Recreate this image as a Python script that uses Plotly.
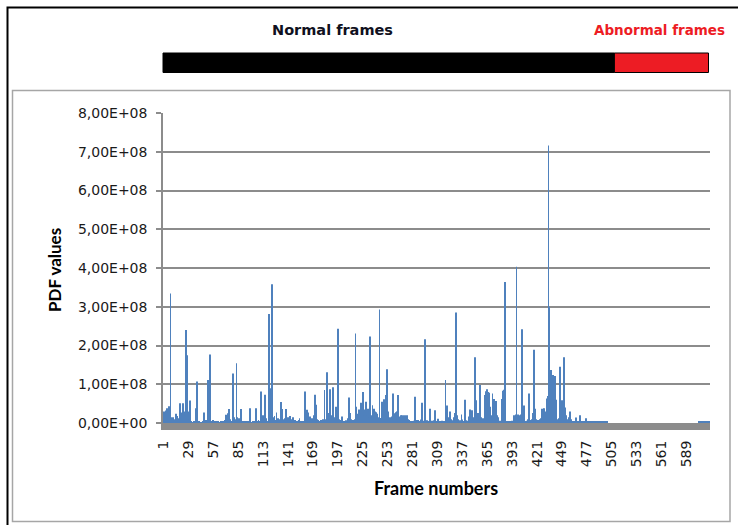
import plotly.graph_objects as go

# ---------------- data (PDF values, in units of 1E+08) ----------------
pdf_e8 = [
    # 1-10
    0.08, 0.30, 0.25, 0.32, 0.38, 0.28, 0.43, 0.40, 3.34, 0.15,
    0.12, 0.15, 0.10, 0.03, 0.24, 0.18, 0.12, 0.10, 0.05, 0.51,
    0.27, 0.20, 0.51, 0.30, 0.27, 2.40, 1.77, 1.75, 0.30, 0.10,
    0.58, 0.05, 0.02, 0.02, 0.03, 0.02, 0.38, 0.10, 1.07, 0.05,
    0.03, 0.02, 0.02, 0.02, 0.03, 0.05, 0.27, 0.08, 0.05, 0.08,
    # 51-100
    1.11, 0.30, 1.77, 0.05, 0.03, 0.02, 0.08, 0.02, 0.03, 0.02,
    0.04, 0.02, 0.03, 0.02, 0.02, 0.03, 0.02, 0.04, 0.05, 0.08,
    0.21, 0.15, 0.25, 0.12, 0.36, 0.10, 0.05, 0.03, 1.28, 0.15,
    0.05, 0.10, 1.54, 0.15, 0.05, 0.12, 0.05, 0.36, 0.03, 0.02,
    0.03, 0.02, 0.04, 0.02, 0.03, 0.02, 0.04, 0.38, 0.03, 0.02,
    # 101-150
    0.03, 0.02, 0.04, 0.03, 0.38, 0.05, 0.03, 0.08, 0.04, 0.06,
    0.81, 0.15, 0.20, 0.05, 0.73, 0.08, 0.12, 0.05, 0.10, 2.81,
    0.87, 0.90, 3.58, 0.15, 0.05, 0.18, 0.08, 0.27, 0.10, 0.12,
    0.05, 0.10, 0.54, 0.36, 0.10, 0.05, 0.12, 0.05, 0.36, 0.08,
    0.15, 0.12, 0.18, 0.05, 0.10, 0.05, 0.15, 0.05, 0.08, 0.03,
    # 151-200
    0.05, 0.02, 0.08, 0.12, 0.05, 0.02, 0.03, 0.04, 0.05, 0.81,
    0.20, 0.34, 0.10, 0.27, 0.08, 0.17, 0.05, 0.12, 0.05, 0.20,
    0.73, 0.25, 0.47, 0.10, 0.08, 0.05, 0.03, 0.08, 0.05, 0.10,
    0.04, 0.85, 0.05, 0.10, 1.31, 0.26, 0.10, 0.87, 0.20, 0.10,
    0.05, 0.92, 0.10, 0.15, 0.42, 0.10, 2.43, 0.10, 0.05, 0.08,
    # 201-250
    0.03, 0.17, 0.05, 0.03, 0.05, 0.07, 0.05, 0.12, 0.17, 0.66,
    0.26, 0.10, 0.05, 0.08, 0.03, 0.10, 2.31, 0.42, 0.20, 0.24,
    0.35, 0.30, 0.52, 0.40, 0.80, 0.20, 0.15, 0.35, 0.55, 0.20,
    0.37, 0.15, 2.23, 0.20, 0.15, 0.46, 0.25, 0.37, 0.30, 0.28,
    0.24, 0.15, 0.10, 2.93, 0.13, 0.10, 0.55, 0.45, 0.61, 0.50,
    # 251-300
    0.72, 1.39, 0.72, 0.30, 0.15, 0.11, 0.15, 0.17, 0.76, 0.25,
    0.17, 0.28, 0.29, 0.30, 0.72, 0.15, 0.17, 0.20, 0.20, 0.13,
    0.20, 0.17, 0.20, 0.15, 0.20, 0.10, 0.08, 0.05, 0.04, 0.05,
    0.03, 0.05, 0.06, 0.68, 0.08, 0.04, 0.08, 0.05, 0.03, 0.09,
    0.07, 0.52, 0.05, 0.06, 2.16, 0.06, 0.07, 0.05, 0.03, 0.05,
    # 301-350
    0.37, 0.05, 0.06, 0.04, 0.07, 0.33, 0.08, 0.05, 0.03, 0.11,
    0.04, 0.03, 0.05, 0.06, 0.04, 0.03, 0.05, 1.11, 0.12, 0.45,
    0.15, 0.12, 0.30, 0.10, 0.05, 0.07, 0.06, 0.15, 0.26, 2.85,
    0.20, 0.10, 0.07, 0.05, 0.07, 0.22, 0.09, 0.05, 0.04, 0.60,
    0.07, 0.04, 0.06, 0.17, 0.30, 0.35, 0.15, 0.33, 0.10, 0.15,
    # 351-400
    1.70, 0.25, 0.59, 0.15, 0.26, 0.10, 0.98, 0.15, 0.10, 0.12,
    0.08, 0.72, 0.40, 0.82, 0.87, 0.80, 0.78, 0.42, 0.20, 0.15,
    0.76, 0.60, 0.62, 0.50, 0.57, 0.20, 0.15, 0.05, 0.06, 0.04,
    0.60, 0.62, 0.83, 0.86, 3.64, 0.05, 0.04, 0.05, 0.03, 0.05,
    0.04, 0.03, 0.06, 0.05, 0.20, 0.18, 0.22, 4.03, 0.20, 0.22,
    # 401-450
    0.20, 0.18, 0.22, 2.42, 0.15, 0.45, 0.10, 0.05, 0.04, 0.06,
    0.10, 0.76, 0.08, 0.05, 0.10, 0.26, 0.15, 1.89, 0.37, 0.10,
    0.05, 0.08, 0.05, 0.10, 0.12, 0.37, 0.20, 0.37, 0.38, 0.05,
    0.30, 0.63, 0.70, 7.16, 3.00, 1.10, 1.37, 1.00, 1.24, 0.94,
    1.21, 0.60, 0.10, 0.04, 0.10, 0.12, 1.45, 0.40, 0.59, 0.50,
    # 451-500
    1.70, 0.83, 0.40, 0.20, 0.10, 0.05, 0.15, 0.30, 0.10, 0.05,
    0.03, 0.04, 0.02, 0.05, 0.14, 0.04, 0.02, 0.05, 0.20, 0.05,
    0.03, 0.02, 0.03, 0.02, 0.05, 0.12, 0.04, 0.04, 0.05, 0.04,
    0.04, 0.05, 0.04, 0.04, 0.05, 0.04, 0.04, 0.05, 0.04, 0.04,
    0.05, 0.04, 0.04, 0.05, 0.04, 0.04, 0.05, 0.04, 0.04, 0.05,
    # 501-550
    0.00, 0.00, 0.00, 0.00, 0.00, 0.00, 0.00, 0.00, 0.00, 0.00,
    0.00, 0.00, 0.00, 0.00, 0.00, 0.00, 0.00, 0.00, 0.00, 0.00,
    0.00, 0.00, 0.00, 0.00, 0.00, 0.00, 0.00, 0.00, 0.00, 0.00,
    0.00, 0.00, 0.00, 0.00, 0.00, 0.00, 0.00, 0.00, 0.00, 0.00,
    0.00, 0.00, 0.00, 0.00, 0.00, 0.00, 0.00, 0.00, 0.00, 0.00,
    # 551-600
    0.00, 0.00, 0.00, 0.00, 0.00, 0.00, 0.00, 0.00, 0.00, 0.00,
    0.00, 0.00, 0.00, 0.00, 0.00, 0.00, 0.00, 0.00, 0.00, 0.00,
    0.00, 0.00, 0.00, 0.00, 0.00, 0.00, 0.00, 0.00, 0.00, 0.00,
    0.00, 0.00, 0.00, 0.00, 0.00, 0.00, 0.00, 0.00, 0.00, 0.00,
    0.00, 0.00, 0.00, 0.00, 0.00, 0.00, 0.00, 0.00, 0.00, 0.00,
    # 601-615
    0.00, 0.00, 0.05, 0.05, 0.05, 0.05, 0.05, 0.05, 0.05, 0.05,
    0.05, 0.05, 0.05, 0.05, 0.05,
]
frames = list(range(1, len(pdf_e8) + 1))
pdf_values = [v * 1e8 for v in pdf_e8]

x_tick_vals = [1, 29, 57, 85, 113, 141, 169, 197, 225, 253, 281, 309, 337,
               365, 393, 421, 449, 477, 505, 533, 561, 589]
x_tick_text = [str(v) for v in x_tick_vals]
y_tick_vals = [0, 1e8, 2e8, 3e8, 4e8, 5e8, 6e8, 7e8, 8e8]
y_tick_text = ["0,00E+00", "1,00E+08", "2,00E+08", "3,00E+08", "4,00E+08",
               "5,00E+08", "6,00E+08", "7,00E+08", "8,00E+08"]
abnormal_start_frame = 508

# ---------------- layout geometry (pixels) ----------------
W, H = 738, 525
L, R, T, B = 163, 28, 113, 102
PW, PH = W - L - R, H - T - B


def px(x):
    return (x - L) / PW


def py(y):
    return (H - B - y) / PH


TICK_FONT = dict(family="DejaVu Sans, sans-serif", size=14, color="#1a1a1a")
GRID = "#8c8c8c"

fig = go.Figure()
fig.add_trace(go.Bar(
    x=frames, y=pdf_values,
    marker=dict(color="#4f81bd", line=dict(width=0)),
    showlegend=False,
))

n = len(frames)
abn_x = px(L + (abnormal_start_frame - 0.5) / n * PW)

shapes = [
    # outer black frame (extends past the page)
    dict(type="rect", xref="paper", yref="paper",
         x0=px(7.5), x1=px(760), y0=py(7.5), y1=py(545),
         line=dict(color="#000000", width=2), fillcolor="rgba(0,0,0,0)", layer="below"),
    # chart area box
    dict(type="rect", xref="paper", yref="paper",
         x0=px(12.5), x1=px(730), y0=py(90.5), y1=py(521.5),
         line=dict(color="#a6a6a6", width=1.5), fillcolor="rgba(0,0,0,0)", layer="below"),
    # normal frames bar
    dict(type="rect", xref="paper", yref="paper",
         x0=0, x1=abn_x, y0=py(72.5), y1=py(53),
         line=dict(color="#000000", width=1), fillcolor="#000000"),
    # abnormal frames bar
    dict(type="rect", xref="paper", yref="paper",
         x0=abn_x, x1=px(708.5), y0=py(72.5), y1=py(53),
         line=dict(color="#000000", width=1), fillcolor="#ed1c24"),
]

annotations = [
    dict(text="<b>Normal frames</b>", xref="paper", yref="paper",
         x=px(332), y=py(30), xanchor="center", yanchor="middle", showarrow=False,
         font=dict(family="DejaVu Sans, sans-serif", size=14.5, color="#101020")),
    dict(text="<b>Abnormal frames</b>", xref="paper", yref="paper",
         x=px(592), y=py(30), xanchor="left", yanchor="middle", showarrow=False,
         font=dict(family="DejaVu Sans, sans-serif", size=13.5, color="#ed1c24")),
    dict(text="<b>PDF values</b>", xref="paper", yref="paper",
         x=px(54), y=py(270), xanchor="center", yanchor="middle", showarrow=False,
         textangle=-90,
         font=dict(family="Lato, sans-serif", size=17, color="#000000")),
    dict(text="<b>Frame numbers</b>", xref="paper", yref="paper",
         x=px(436), y=py(488), xanchor="center", yanchor="middle", showarrow=False,
         font=dict(family="Lato, sans-serif", size=18, color="#000000")),
]

fig.update_layout(
    width=W, height=H,
    margin=dict(l=L, r=R, t=T, b=B, pad=0),
    paper_bgcolor="white", plot_bgcolor="white",
    bargap=0.15,
    shapes=shapes, annotations=annotations,
    xaxis=dict(
        range=[0.5, n + 0.5], tickmode="array",
        tickvals=x_tick_vals, ticktext=x_tick_text, tickangle=-90,
        tickfont=TICK_FONT, showgrid=False, zeroline=False,
        showline=True, linecolor="#8c8c8c", linewidth=7, ticks="",
        ticklabelstandoff=5, automargin=False,
    ),
    yaxis=dict(
        range=[0, 8e8], tickmode="array",
        tickvals=y_tick_vals, ticktext=y_tick_text, tickfont=TICK_FONT,
        showgrid=True, gridcolor=GRID, gridwidth=1.5, zeroline=False,
        showline=True, linecolor=GRID, linewidth=1.5,
        ticks="outside", ticklen=5, tickcolor=GRID, tickwidth=1.5,
        ticklabelstandoff=6, automargin=False,
    ),
)

fig.write_html("out.html")
